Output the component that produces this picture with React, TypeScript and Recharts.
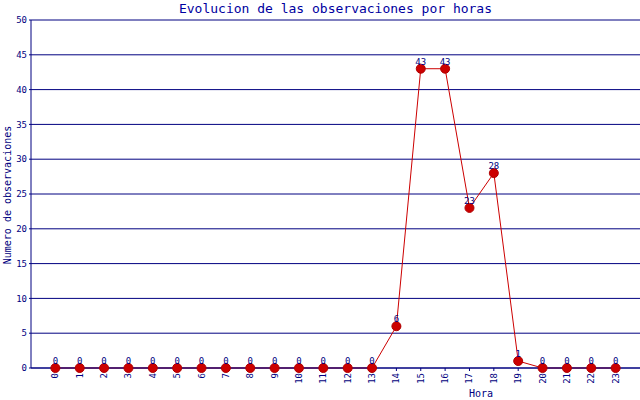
import React from 'react';
import { LineChart, Line, XAxis, YAxis, CartesianGrid, LabelList } from 'recharts';

// Hours of the day and number of observations per hour
const hours = [0, 1, 2, 3, 4, 5, 6, 7, 8, 9, 10, 11, 12, 13, 14, 15, 16, 17, 18, 19, 20, 21, 22, 23];
const observations = [0, 0, 0, 0, 0, 0, 0, 0, 0, 0, 0, 0, 0, 0, 6, 43, 43, 23, 28, 1, 0, 0, 0, 0];
const yTicks = [0, 5, 10, 15, 20, 25, 30, 35, 40, 45, 50];

const NAVY = '#000080';
const RED = '#cc0000';
const FONT = '"DejaVu Sans Mono", monospace';

const data = hours.map((h, i) => ({ hora: h, obs: observations[i] }));

// Rotated hour labels under the axis
const HourTick = (props: any) => {
  const { x, y, payload } = props;
  return (
    <text
      transform={`translate(${x + 3},${y}) rotate(-90)`}
      textAnchor="end"
      fontSize={9}
      fontFamily={FONT}
      fill={NAVY}
    >
      {payload.value}
    </text>
  );
};

export default function App() {
  return (
    <div style={{ position: 'absolute', left: 0, top: 0, width: 640, height: 400, background: '#fff' }}>
      <div
        style={{
          position: 'absolute',
          left: 31,
          top: 0,
          width: 609,
          textAlign: 'center',
          fontFamily: FONT,
          fontSize: 13,
          lineHeight: '17px',
          color: '#0000a0',
        }}
      >
        Evolucion de las observaciones por horas
      </div>
      <LineChart width={640} height={400} data={data} margin={{ top: 20, right: 0, bottom: 0, left: 0 }}>
        <CartesianGrid horizontal vertical={false} stroke={NAVY} strokeWidth={1} />
        <XAxis
          dataKey="hora"
          type="number"
          domain={[-1, 24]}
          ticks={hours}
          interval={0}
          height={32}
          tickSize={3}
          stroke={NAVY}
          tick={<HourTick />}
          label={() => (
            <text x={481} y={397} textAnchor="middle" fontSize={10} fontFamily={FONT} fill={NAVY}>
              Hora
            </text>
          )}
        />
        <YAxis
          type="number"
          domain={[0, 50]}
          ticks={yTicks}
          width={31}
          tickSize={2}
          stroke={NAVY}
          tick={{ fontSize: 9, fontFamily: FONT, fill: NAVY }}
          label={() => (
            <text
              transform="translate(11,195) rotate(-90)"
              textAnchor="middle"
              fontSize={10}
              fontFamily={FONT}
              fill={NAVY}
            >
              Numero de observaciones
            </text>
          )}
        />
        <Line
          dataKey="obs"
          stroke={RED}
          strokeWidth={1}
          isAnimationActive={false}
          dot={{ r: 4.5, fill: RED, stroke: '#b00000', strokeWidth: 1 }}
        >
          <LabelList dataKey="obs" position="top" offset={4} fontSize={9} fontFamily={FONT} fill={NAVY} />
        </Line>
      </LineChart>
    </div>
  );
}
